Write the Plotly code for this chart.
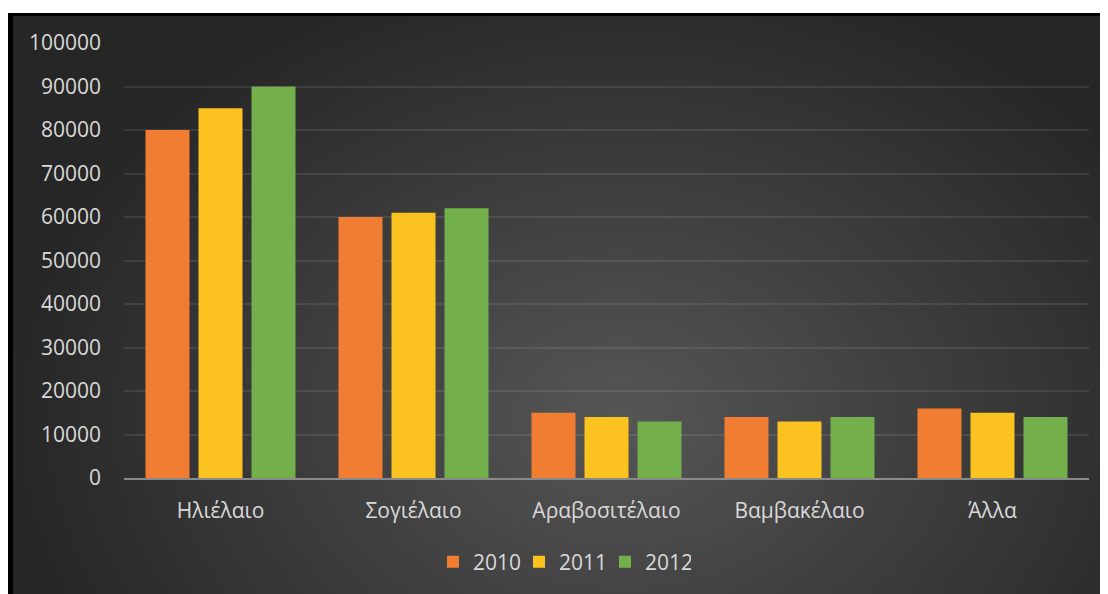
import base64, struct, zlib
import numpy as np
import plotly.graph_objects as go

categories = ["Ηλιέλαιο", "Σογιέλαιο", "Αραβοσιτέλαιο", "Βαμβακέλαιο", "Άλλα"]
years = ["2010", "2011", "2012"]
values_2010 = [80000, 60000, 15000, 14000, 16000]
values_2011 = [85000, 61000, 14000, 13000, 15000]
values_2012 = [90000, 62000, 13000, 14000, 14000]
y_ticks = list(range(0, 100001, 10000))

colors = ["#f17d33", "#fcc320", "#73b04b"]

# ---------- background image helpers ----------
def make_png(arr):
    h, w, _ = arr.shape
    raw = b"".join(b"\x00" + arr[i].astype(np.uint8).tobytes() for i in range(h))
    def chunk(t, d):
        c = struct.pack(">I", len(d)) + t + d
        return c + struct.pack(">I", zlib.crc32(t + d) & 0xffffffff)
    png = b"\x89PNG\r\n\x1a\n"
    png += chunk(b"IHDR", struct.pack(">IIBBBBB", w, h, 8, 2, 0, 0, 0))
    png += chunk(b"IDAT", zlib.compress(raw, 9))
    png += chunk(b"IEND", b"")
    return "data:image/png;base64," + base64.b64encode(png).decode()

OFF = 8  # page body margin
W, H = 1100, 586
L, R, T, B = 116, 19, 35, 116
pw, ph = W - L - R, H - T - B

def px_x(px):  # page px -> paper
    return (px - OFF - L) / pw

def px_y(py):
    return (H - B - (py - OFF)) / ph

# radial gradient for chart area (page px 13..1108, 16..594)
gw, gh = 274, 145
bx0, bx1, by0, by1 = 13, 1108, 16, 594
xs = np.linspace(bx0, bx1, gw)
ys = np.linspace(by0, by1, gh)
X, Y = np.meshgrid(xs, ys)
d = np.sqrt(((X - 620) / 620) ** 2 + ((Y - 420) / 470) ** 2)
d = np.clip(d, 0, 1)
v = 86 - (86 - 38) * d
grad = np.stack([v, v, v], axis=-1)
grad_src = make_png(np.round(grad))
black_src = make_png(np.zeros((1, 1, 3)))

fig = go.Figure()
for name, vals, c in zip(years, [values_2010, values_2011, values_2012], colors):
    fig.add_trace(go.Bar(x=categories, y=vals, name=name, marker=dict(color=c, line=dict(width=0))))

font_family = "Open Sans"
text_color = "#d9d9d9"

fig.update_layout(
    width=W, height=H,
    margin=dict(l=L, r=R, t=T, b=B),
    paper_bgcolor="white",
    plot_bgcolor="rgba(0,0,0,0)",
    barmode="group",
    bargap=0.176,
    bargroupgap=0.17,
    font=dict(family=font_family, size=21, color=text_color),
    showlegend=True,
    legend=dict(orientation="h", x=px_x(562), xanchor="center", y=px_y(562), yanchor="middle",
                font=dict(size=21, color=text_color), bgcolor="rgba(0,0,0,0)",
                entrywidth=41, entrywidthmode="pixels",
                itemsizing="constant", traceorder="normal"),
    images=[
        dict(source=black_src, xref="paper", yref="paper", x=px_x(8), y=px_y(13),
             sizex=px_x(1108) - px_x(8), sizey=px_y(13) - px_y(594),
             xanchor="left", yanchor="top", sizing="stretch", layer="below"),
        dict(source=grad_src, xref="paper", yref="paper", x=px_x(bx0), y=px_y(by0),
             sizex=px_x(bx1) - px_x(bx0), sizey=px_y(by0) - px_y(by1),
             xanchor="left", yanchor="top", sizing="stretch", layer="below"),
    ],
)
fig.update_yaxes(range=[0, 100000], tickvals=y_ticks, ticktext=[str(t) for t in y_ticks],
                 showgrid=True, gridcolor="rgba(255,255,255,0.09)", gridwidth=2,
                 zeroline=False, showline=False, ticks="", ticklabelstandoff=22,
                 tickfont=dict(size=21, color=text_color))
fig.update_xaxes(showgrid=False, showline=True, linecolor="#8a8a8a", linewidth=2,
                 ticks="", ticklabelstandoff=13, tickfont=dict(size=21, color=text_color))

fig.write_html("out.html")
